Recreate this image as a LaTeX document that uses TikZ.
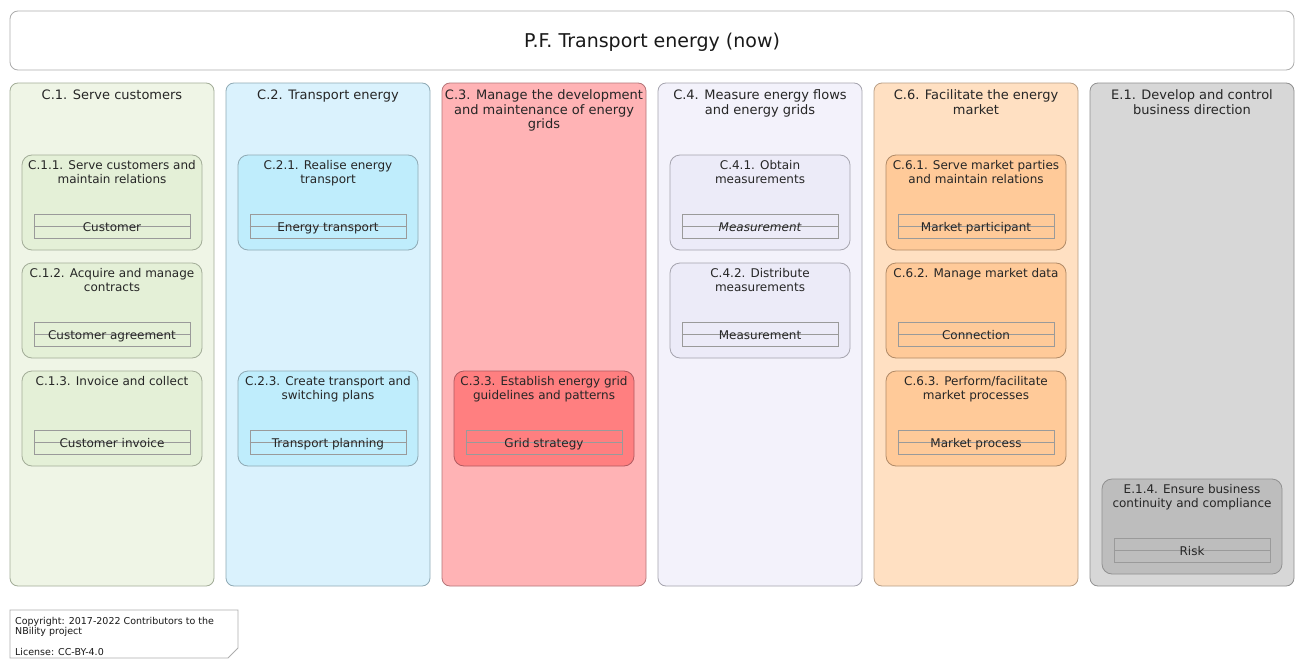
\documentclass[tikz,border=0pt]{standalone}
\usepackage{fontspec}
\setmainfont{DejaVu Sans}
\begin{document}
\begin{tikzpicture}[x=1pt,y=-1pt,
  colbox/.style={rounded corners=8pt, line width=0.8pt, minimum width=204pt, minimum height=503pt, inner sep=0pt},
  coltitle/.style={anchor=north, inner sep=0pt, align=center, font=\fontsize{13}{14.5}\selectfont, text=black!85},
  inbox/.style={rounded corners=10pt, line width=0.8pt, minimum width=180pt, minimum height=95pt, inner sep=0pt},
  intitle/.style={anchor=north, inner sep=0pt, align=center, font=\fontsize{12}{14}\selectfont, text=black!85},
  entity/.style={draw=entb, line width=0.7pt, minimum width=156pt, minimum height=24pt, inner sep=0pt},
  entline/.style={draw=entb, line width=0.7pt},
  enttext/.style={anchor=base, inner sep=0pt, font=\fontsize{12}{14}\selectfont, text=black!85},
]
\definecolor{entb}{HTML}{9A9A9A}
\definecolor{cAf}{HTML}{EFF5E6}\definecolor{cAi}{HTML}{E4F0D7}\definecolor{cAb}{HTML}{A3AD98}
\definecolor{cBf}{HTML}{DAF2FD}\definecolor{cBi}{HTML}{BFEDFC}\definecolor{cBb}{HTML}{8FAAB5}
\definecolor{cCf}{HTML}{FFB3B5}\definecolor{cCi}{HTML}{FF7F80}\definecolor{cCb}{HTML}{B57579}\definecolor{cCib}{HTML}{B05A60}
\definecolor{cDf}{HTML}{F3F2FB}\definecolor{cDi}{HTML}{ECEBF8}\definecolor{cDb}{HTML}{A5A4AE}
\definecolor{cEf}{HTML}{FFE0C2}\definecolor{cEi}{HTML}{FFCA99}\definecolor{cEb}{HTML}{B89E85}\definecolor{cEib}{HTML}{B08A66}
\definecolor{cFf}{HTML}{D7D7D7}\definecolor{cFi}{HTML}{BDBDBD}\definecolor{cFb}{HTML}{909090}
\useasboundingbox (0,0) rectangle (1305,669);
\fill[white] (0,0) rectangle (1305,669);
% title
\node[draw=black!32, line width=0.8pt, rounded corners=8pt, minimum width=1284pt, minimum height=59pt, fill=white, inner sep=0pt] (title) at (652,40.5) {};
\node[anchor=base, inner sep=0pt, font=\fontsize{19}{22}\selectfont, text=black!90] (titletext) at (652,48) {P.F. Transport energy (now)};
% columns
\newcommand\capcol[6]{%
  \node[colbox, fill=#3, draw=#4] (#1) at (#2,334.5) {};
  \node[coltitle] (#1t) at ([yshift=-7pt]#1.north) {#5};
}
\capcol{c1}{112}{cAf}{cAb}{C.1. Serve customers}{}
\capcol{c2}{328}{cBf}{cBb}{C.2. Transport energy}{}
\capcol{c3}{544}{cCf}{cCb}{C.3. Manage the development\\and maintenance of energy\\grids}{}
\capcol{c4}{760}{cDf}{cDb}{C.4. Measure energy flows\\and energy grids}{}
\capcol{c6}{976}{cEf}{cEb}{C.6. Facilitate the energy\\market}{}
\capcol{e1}{1192}{cFf}{cFb}{E.1. Develop and control\\business direction}{}
% inner boxes
\newcommand\inbx[7]{%
  \node[inbox, fill=#4, draw=#5] (#1) at (#2,#3) {};
  \node[intitle] (#1t) at ([yshift=-6pt]#1.north) {#6};
  \node[entity, fill=#4] (#1e) at ([yshift=-23.5pt]#1.center) {};
  \draw[entline] (#1e.west) -- (#1e.east);
  \node[enttext] (#1l) at ([yshift=-5pt]#1e.center) {#7};
}
\inbx{c11}{112}{202.5}{cAi}{cAb}{C.1.1. Serve customers and\\maintain relations}{Customer}
\inbx{c12}{112}{310.5}{cAi}{cAb}{C.1.2. Acquire and manage\\contracts}{Customer agreement}
\inbx{c13}{112}{418.5}{cAi}{cAb}{C.1.3. Invoice and collect}{Customer invoice}
\inbx{c21}{328}{202.5}{cBi}{cBb}{C.2.1. Realise energy\\transport}{Energy transport}
\inbx{c23}{328}{418.5}{cBi}{cBb}{C.2.3. Create transport and\\switching plans}{Transport planning}
\inbx{c33}{544}{418.5}{cCi}{cCib}{C.3.3. Establish energy grid\\guidelines and patterns}{Grid strategy}
\inbx{c41}{760}{202.5}{cDi}{cDb}{C.4.1. Obtain\\measurements}{\itshape Measurement}
\inbx{c42}{760}{310.5}{cDi}{cDb}{C.4.2. Distribute\\measurements}{Measurement}
\inbx{c61}{976}{202.5}{cEi}{cEib}{C.6.1. Serve market parties\\and maintain relations}{Market participant}
\inbx{c62}{976}{310.5}{cEi}{cEib}{C.6.2. Manage market data}{Connection}
\inbx{c63}{976}{418.5}{cEi}{cEib}{C.6.3. Perform/facilitate\\market processes}{Market process}
\inbx{e14}{1192}{526.5}{cFi}{cFb}{E.1.4. Ensure business\\continuity and compliance}{Risk}
% copyright note
\draw[draw=black!32, line width=0.8pt, fill=white] (10,610) -- (238,610) -- (238,648) -- (228,658) -- (10,658) -- cycle;
\node[anchor=north west, inner sep=0pt, align=left, font=\fontsize{9.5}{10.3}\selectfont, text=black!90] (copy) at (15,617) {Copyright: 2017-2022 Contributors to the\\NBility project\\[10.3pt]License: CC-BY-4.0};
\end{tikzpicture}
\end{document}
